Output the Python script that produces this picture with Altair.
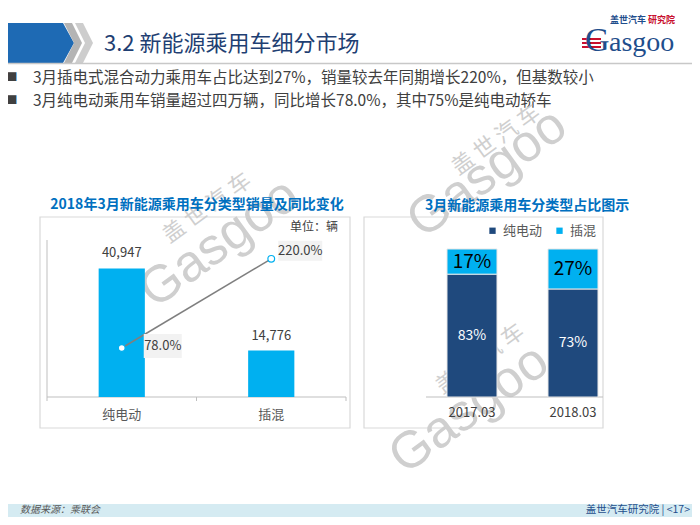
import altair as alt
import pandas as pd

# ---------------- data ----------------
types = ['纯电动', '插混']
sales = [40947, 14776]
growth = [78.0, 220.0]
periods = ['2017.03', '2018.03']
bev_share = [83, 73]
phev_share = [17, 27]

page_title = '3.2 新能源乘用车细分市场'
bullets = ['3月插电式混合动力乘用车占比达到27%，销量较去年同期增长220%，但基数较小',
           '3月纯电动乘用车销量超过四万辆，同比增长78.0%，其中75%是纯电动轿车']
left_title = '2018年3月新能源乘用车分类型销量及同比变化'
right_title = '3月新能源乘用车分类型占比图示'
unit_label = '单位：辆'
source_label = '数据来源：乘联会'
footer_label = '盖世汽车研究院 | <17>'

# ---------------- helpers ----------------
OX, OY = 8, 8
W, H = 684, 509
FONT = 'Noto Sans CJK SC'
NAVY = '#1F497D'
CYAN = '#00B0F0'
one = pd.DataFrame({'k': [0]})


def rect(x1, y1, x2, y2, **kw):
    return alt.Chart(one).mark_rect(**kw).encode(
        x=alt.value(x1 - OX), x2=alt.value(x2 - OX),
        y=alt.value(y1 - OY), y2=alt.value(y2 - OY))


def rule(x1, y1, x2, y2, color, width=1.0):
    return alt.Chart(one).mark_rule(color=color, strokeWidth=width).encode(
        x=alt.value(x1 - OX), x2=alt.value(x2 - OX),
        y=alt.value(y1 - OY), y2=alt.value(y2 - OY))


def text(s, x, y, size, color, font=FONT, **kw):
    return alt.Chart(pd.DataFrame({'t': [s]})).mark_text(
        fontSize=size, color=color, font=font, **kw).encode(
        text='t:N', x=alt.value(x - OX), y=alt.value(y - OY))


def shape(path, x, y, unit, color):
    return alt.Chart(one).mark_point(
        shape=path, size=(2 * unit) ** 2, filled=True, fill=color,
        color=color, strokeWidth=0, opacity=1).encode(
        x=alt.value(x - OX), y=alt.value(y - OY))


layers = []

# ---------------- header ----------------
layers.append(shape('M-3.4,-1L0,-1L0.55,0L0,1L-3.4,1Z', 63, 43, 20, '#1E6AB4'))
chev = 'M-0.45,-1L-0.05,-1L0.45,0L-0.05,1L-0.45,1L0.05,0Z'
layers.append(shape(chev, 73, 43, 20, '#B4B4B4'))
layers.append(shape(chev, 84, 43, 20, '#CDCDCD'))
layers.append(rule(0, 63.5, 700, 63.5, '#C8C8C8', 1.5))
layers.append(text(page_title, 104, 44, 22, '#1F3F73', align='left', baseline='middle'))

# logo
for yy in (39, 43, 47):
    layers.append(rule(582, yy, 601, yy, '#C8102E', 2))
layers.append(text('G', 585, 51, 34, '#1F4E8C', font='Liberation Serif',
                   align='left', baseline='alphabetic'))
layers.append(text('asgoo', 609, 51, 28, '#1F4E8C', font='Liberation Serif',
                   align='left', baseline='alphabetic'))
layers.append(text('盖世汽车', 610, 20, 9, '#1F4E8C', align='left', baseline='middle',
                   fontWeight='bold'))
layers.append(text('研究院', 648, 20, 9, '#C8102E', align='left', baseline='middle',
                   fontWeight='bold'))

# bullets
for i, b in enumerate(bullets):
    yy = 78 + 23 * i
    layers.append(text('■', 12, yy, 11, '#404040', baseline='middle'))
    layers.append(text(b, 33, yy, 15.5, '#404040', align='left', baseline='middle'))

# footer
layers.append(rect(0, 504, 700, 530, fill='#D5EBF2'))
layers.append(text(source_label, 20, 509.5, 10, '#595959', align='left',
                   baseline='middle', fontStyle='italic'))
layers.append(text(footer_label, 690, 509.5, 10.5, '#1F4E8C', align='right',
                   baseline='middle'))

# panel boxes
layers.append(rect(40, 217, 350, 428, fill='white', stroke='#D9D9D9', strokeWidth=1.2))
layers.append(rect(364, 217, 603, 428, fill='white', stroke='#D9D9D9', strokeWidth=1.2))

# watermarks
WM = '#CFCFCF'
for (gx, gy), (cx, cy) in [((219, 243), (207, 208)),
                           ((487, 173), (496, 140)),
                           ((469, 409), (480, 359))]:
    layers.append(text('Gasgoo', gx, gy, 52, WM, font='Liberation Sans',
                       angle=324, baseline='middle'))
    layers.append(text('盖 世 汽 车', cx, cy, 22, WM, angle=324, baseline='middle'))

# panel titles
layers.append(text(left_title, 197, 205, 14, '#0070C0', fontWeight='bold'))
layers.append(text(right_title, 527, 206, 14, '#0070C0', fontWeight='bold'))
layers.append(text(unit_label, 338, 227, 12, '#404040', align='right'))

# ---------------- left chart ----------------
df_left = pd.DataFrame({'type': types, 'sales': sales, 'growth': growth})
df_left['glabel'] = [f'{g:.1f}%' for g in growth]

xL = alt.X('type:N', sort=types, axis=None,
           scale=alt.Scale(type='band', domain=types, range=[47 - OX, 346 - OX],
                           paddingInner=0.691, paddingOuter=0.3455))
ySales = alt.Y('sales:Q', axis=None,
               scale=alt.Scale(domain=[0, 50000], range=[397 - OY, 240 - OY]))
yGrowth = alt.Y('growth:Q', axis=None,
                scale=alt.Scale(domain=[0, 250], range=[397 - OY, 240 - OY]))

baseL = alt.Chart(df_left)
layers.append(rule(47, 240, 47, 397, '#BFBFBF', 1))
layers.append(rule(47, 397, 346, 397, '#BFBFBF', 1))
for tx in (47, 196.5, 346):
    layers.append(rule(tx, 397, tx, 401, '#BFBFBF', 1))

layers.append(baseL.mark_bar(color=CYAN).encode(x=xL, y=ySales))
layers.append(baseL.mark_text(fontSize=13, color='#404040', font=FONT, dy=-15).encode(
    x=xL, y=ySales, text=alt.Text('sales:Q', format=',')))
layers.append(baseL.mark_text(fontSize=13, color='#595959', font=FONT).encode(
    x=xL, y=alt.value(415 - OY), text='type:N'))
layers.append(baseL.mark_line(color='#7F7F7F', strokeWidth=1.5).encode(x=xL, y=yGrowth))
layers.append(baseL.mark_point(filled=True, fill='white', stroke=CYAN, strokeWidth=1.2,
                               size=45, opacity=1).encode(x=xL, y=yGrowth))
# growth label boxes + text
box_specs = {
    '纯电动': ('M2.2,-1.4L6.0,-1.4L6.0,1.0L2.2,1.0Z', 41, -2),
    '插混': ('M0.7,-1.8L5.1,-1.8L5.1,0.2L0.7,0.2Z', 29, -8),
}
for t, (path, ddx, ddy) in box_specs.items():
    sub = baseL.transform_filter(alt.datum.type == t)
    layers.append(sub.mark_point(shape=path, size=400, filled=True, fill='#F2F2F2',
                                 strokeWidth=0, opacity=1).encode(x=xL, y=yGrowth))
    layers.append(sub.mark_text(fontSize=13, color='#404040', font=FONT,
                                dx=ddx, dy=ddy).encode(x=xL, y=yGrowth, text='glabel:N'))

# ---------------- right chart ----------------
rows = []
for p, b, h in zip(periods, bev_share, phev_share):
    rows.append({'period': p, 'type': types[0], 'share': b, 'ord': 0})
    rows.append({'period': p, 'type': types[1], 'share': h, 'ord': 1})
df_right = pd.DataFrame(rows)

xR = alt.X('period:N', sort=periods, axis=None,
           scale=alt.Scale(type='band', domain=periods, range=[421.5 - OX, 623.5 - OX],
                           paddingInner=0.505, paddingOuter=0.2525))
yScaleR = alt.Scale(domain=[0, 100], range=[397 - OY, 249 - OY])

baseR = alt.Chart(df_right)
layers.append(rule(426, 397, 603, 397, '#BFBFBF', 1))
layers.append(baseR.mark_bar(stroke='#E6E6E6', strokeWidth=1).encode(
    x=xR,
    y=alt.Y('share:Q', stack='zero', axis=None, scale=yScaleR),
    color=alt.Color('type:N', sort=types,
                    scale=alt.Scale(domain=types, range=[NAVY, CYAN]),
                    legend=alt.Legend(orient='none', legendX=486 - OX, legendY=224 - OY,
                                      direction='horizontal', title=None,
                                      symbolType='square', symbolSize=40,
                                      symbolStrokeWidth=0, labelFont=FONT,
                                      labelFontSize=13, labelColor='#595959',
                                      labelOffset=4, columnPadding=10)),
    order=alt.Order('ord:Q')))

stacked = baseR.transform_stack(
    stack='share', as_=['s0', 's1'], groupby=['period'],
    sort=[alt.SortField('ord', order='ascending')]
).transform_calculate(mid='(datum.s0 + datum.s1) / 2',
                      lab='datum.share + "%"')
yMid = alt.Y('mid:Q', axis=None, scale=yScaleR)
layers.append(stacked.transform_filter(alt.datum.ord == 1).mark_text(
    fontSize=19, color='#000000', font=FONT).encode(x=xR, y=yMid, text='lab:N'))
layers.append(stacked.transform_filter(alt.datum.ord == 0).mark_text(
    fontSize=14, color='white', font=FONT).encode(x=xR, y=yMid, text='lab:N'))
layers.append(baseR.transform_filter(alt.datum.ord == 0).mark_text(
    fontSize=13, color='#404040', font=FONT).encode(
    x=xR, y=alt.value(413 - OY), text='period:N'))

chart = alt.layer(*layers).resolve_scale(
    x='independent', y='independent', color='independent'
).properties(
    width=W, height=H, padding=0,
    autosize=alt.AutoSizeParams(type='none'),
    background='white'
).configure_view(stroke=None)

chart.save('out.html', embed_options={'renderer': 'svg', 'actions': False})
